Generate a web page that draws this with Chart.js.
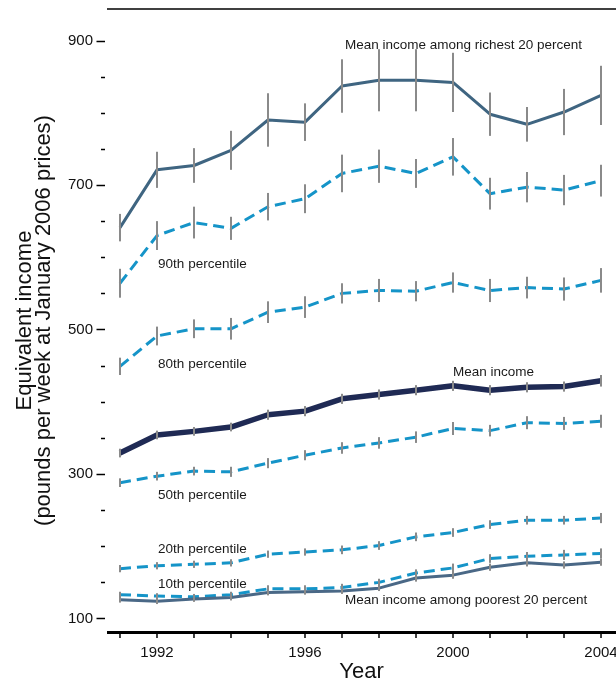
<!DOCTYPE html>
<html>
<head>
<meta charset="utf-8">
<script src="https://cdn.jsdelivr.net/npm/chart.js@4"></script>
<style>
  html, body { margin: 0; padding: 0; background: #ffffff; }
  #wrap { width: 616px; height: 683px; }
</style>
</head>
<body>
<div id="wrap"><canvas id="c" width="616" height="683"></canvas></div>
<script>
// Weekly equivalent income, pounds at January 2006 prices
const years = [1991, 1992, 1993, 1994, 1995, 1996, 1997, 1998, 1999, 2000, 2001, 2002, 2003, 2004];

const richest20    = [641, 721, 727, 748, 790, 787, 837, 845, 845, 842, 798, 784, 801, 824];
const richest20Err = [19, 25, 24, 27, 37, 26, 37, 43, 43, 41, 30, 24, 32, 41];

const p90    = [564, 630, 648, 640, 670, 681, 716, 726, 716, 739, 688, 697, 693, 706];
const p90Err = [20, 20, 22, 16, 19, 20, 26, 23, 20, 26, 22, 21, 21, 22];

const p80    = [449, 491, 501, 501, 524, 531, 550, 554, 553, 565, 554, 558, 556, 568];
const p80Err = [12, 13, 13, 15, 15, 15, 14, 16, 14, 14, 16, 15, 16, 17];

const meanIncome    = [329, 354, 359, 365, 382, 387, 404, 410, 416, 422, 416, 420, 421, 429];
const meanIncomeErr = [6, 6, 6, 6, 7, 7, 7, 7, 7, 7, 7, 7, 7, 8];

const p50    = [288, 297, 304, 303, 315, 326, 336, 343, 351, 363, 360, 371, 370, 373];
const p50Err = [6, 6, 6, 7, 7, 7, 8, 8, 8, 9, 8, 9, 9, 9];

const p20    = [169, 173, 175, 177, 189, 192, 195, 201, 213, 219, 230, 236, 236, 239];
const p20Err = [5, 5, 5, 5, 5, 5, 6, 6, 6, 6, 6, 6, 6, 7];

const p10    = [133, 131, 130, 133, 141, 141, 143, 150, 163, 170, 183, 186, 188, 190];
const p10Err = [4, 4, 4, 4, 5, 5, 5, 5, 5, 6, 6, 6, 7, 7];

const poorest20    = [126, 124, 127, 129, 136, 137, 138, 142, 156, 160, 171, 177, 174, 178];
const poorest20Err = [4, 4, 4, 4, 4, 4, 4, 4, 5, 5, 5, 5, 5, 5];

const yTickLabels = [100, 300, 500, 700, 900];
const xTickLabels = [1992, 1996, 2000, 2004];

// Text labels placed in data coordinates (year, income)
const seriesNotes = [
  { text: 'Mean income among richest 20 percent', x: 1997.08, y: 888 },
  { text: '90th percentile', x: 1992.03, y: 585 },
  { text: '80th percentile', x: 1992.03, y: 447 },
  { text: 'Mean income', x: 2000.0, y: 436 },
  { text: '50th percentile', x: 1992.03, y: 266 },
  { text: '20th percentile', x: 1992.03, y: 190 },
  { text: '10th percentile', x: 1992.03, y: 142 },
  { text: 'Mean income among poorest 20 percent', x: 1997.08, y: 120 }
];

const FONT = "'Liberation Sans', Arial, Helvetica, sans-serif";
const SOLID_BLUE = '#3f6581';
const DASH_BLUE = '#1594c8';
const NAVY = '#1f2a54';

function series(label, values, errs, color, width, dash) {
  return {
    label,
    data: years.map((x, i) => ({ x, y: values[i] })),
    errs,
    borderColor: color,
    backgroundColor: color,
    borderWidth: width,
    borderDash: dash || [],
    borderJoinStyle: 'round',
    pointRadius: 0,
    pointHoverRadius: 0,
    tension: 0,
    fill: false
  };
}

const datasets = [
  series('Mean income among poorest 20 percent', poorest20, poorest20Err, '#4a6886', 3),
  series('10th percentile', p10, p10Err, DASH_BLUE, 3, [11, 6]),
  series('20th percentile', p20, p20Err, DASH_BLUE, 3, [11, 6]),
  series('50th percentile', p50, p50Err, DASH_BLUE, 3, [11, 6]),
  series('80th percentile', p80, p80Err, DASH_BLUE, 3, [11, 6]),
  series('90th percentile', p90, p90Err, DASH_BLUE, 3, [11, 6]),
  series('Mean income', meanIncome, meanIncomeErr, NAVY, 5.5),
  series('Mean income among richest 20 percent', richest20, richest20Err, SOLID_BLUE, 3)
];

// Frame lines and tick marks drawn from the scales
const axisDecor = {
  id: 'axisDecor',
  afterDraw(chart) {
    const { ctx, chartArea: a, scales: { x, y } } = chart;
    ctx.save();
    ctx.strokeStyle = '#000';
    // top rule
    ctx.lineWidth = 1.5;
    ctx.beginPath();
    ctx.moveTo(a.left, a.top);
    ctx.lineTo(a.right, a.top);
    ctx.stroke();
    // bottom axis rule
    ctx.lineWidth = 3;
    ctx.beginPath();
    ctx.moveTo(a.left, a.bottom + 0.5);
    ctx.lineTo(a.right, a.bottom + 0.5);
    ctx.stroke();
    // x tick marks
    ctx.lineWidth = 1.5;
    x.ticks.forEach(t => {
      const px = x.getPixelForValue(t.value);
      ctx.beginPath();
      ctx.moveTo(px, a.bottom + 1);
      ctx.lineTo(px, a.bottom + 6);
      ctx.stroke();
    });
    // y tick marks, long at labelled values
    y.ticks.forEach(t => {
      const py = Math.round(y.getPixelForValue(t.value)) + 0.5;
      const major = yTickLabels.includes(t.value);
      ctx.beginPath();
      ctx.moveTo(major ? 96.5 : 101, py);
      ctx.lineTo(105, py);
      ctx.stroke();
    });
    ctx.restore();
  }
};

// Vertical interval bars at each yearly estimate
const errorBars = {
  id: 'errorBars',
  afterDatasetsDraw(chart) {
    const { ctx, scales: { x, y } } = chart;
    ctx.save();
    ctx.strokeStyle = '#8a8a8a';
    ctx.lineWidth = 2;
    chart.data.datasets.forEach(ds => {
      ds.data.forEach((p, i) => {
        const e = ds.errs[i];
        const px = x.getPixelForValue(p.x);
        ctx.beginPath();
        ctx.moveTo(px, y.getPixelForValue(p.y + e));
        ctx.lineTo(px, y.getPixelForValue(p.y - e));
        ctx.stroke();
      });
    });
    ctx.restore();
  }
};

// Series names written beside their lines
const notes = {
  id: 'notes',
  afterDatasetsDraw(chart) {
    const { ctx, scales: { x, y } } = chart;
    ctx.save();
    ctx.font = '13.5px ' + FONT;
    ctx.fillStyle = '#1a1a1a';
    ctx.textAlign = 'left';
    ctx.textBaseline = 'alphabetic';
    seriesNotes.forEach(n => {
      ctx.fillText(n.text, x.getPixelForValue(n.x), y.getPixelForValue(n.y));
    });
    ctx.restore();
  }
};

// Keep the plot area flush with the frame (no room reserved for label overhang)
function noOverhang(scale) {
  scale.paddingLeft = 0;
  scale.paddingRight = 0;
  scale.paddingTop = 0;
  scale.paddingBottom = 0;
}

new Chart(document.getElementById('c'), {
  type: 'line',
  data: { datasets },
  plugins: [axisDecor, errorBars, notes],
  options: {
    responsive: false,
    devicePixelRatio: 1,
    animation: false,
    events: [],
    layout: { padding: { top: 9, right: 0, left: 0, bottom: 0 } },
    plugins: {
      legend: { display: false },
      tooltip: { enabled: false },
      title: { display: false }
    },
    scales: {
      x: {
        type: 'linear',
        min: 1990.649,
        max: 2004.405,
        border: { display: false },
        grid: { display: false, drawTicks: false },
        ticks: {
          stepSize: 1,
          autoSkip: false,
          includeBounds: false,
          maxRotation: 0,
          padding: 12,
          color: '#111',
          font: { family: FONT, size: 15 },
          callback: v => (xTickLabels.includes(v) ? String(v) : '')
        },
        title: {
          display: true,
          text: 'Year',
          color: '#111',
          font: { family: FONT, size: 22, lineHeight: 1 },
          padding: { top: 0, bottom: 0 }
        },
        afterFit(scale) { scale.height = 51; noOverhang(scale); }
      },
      y: {
        type: 'linear',
        min: 81.3,
        max: 943.6,
        border: { display: false },
        grid: { display: false, drawTicks: false },
        ticks: {
          stepSize: 50,
          autoSkip: false,
          includeBounds: false,
          padding: 14,
          color: '#111',
          font: { family: FONT, size: 15 },
          callback: v => (yTickLabels.includes(v) ? String(v) : '')
        },
        title: {
          display: true,
          text: ['Equivalent income', '(pounds per week at January 2006 prices)'],
          color: '#111',
          font: { family: FONT, size: 22, lineHeight: 0.89 },
          padding: { top: 15, bottom: 0 }
        },
        afterFit(scale) { scale.width = 107; noOverhang(scale); }
      }
    }
  }
});
</script>
</body>
</html>
